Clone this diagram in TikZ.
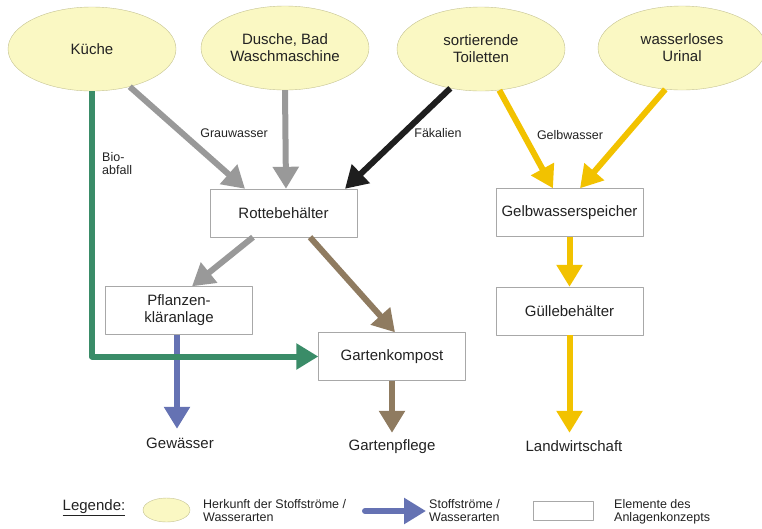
\documentclass[tikz,border=0pt]{standalone}
\usepackage{fontspec}
\setmainfont{Liberation Sans}
\usetikzlibrary{arrows.meta,shapes.geometric}
\definecolor{quelle}{HTML}{FAF8C3}
\definecolor{ellrand}{HTML}{C4C292}
\definecolor{kasten}{HTML}{A8A8A8}
\definecolor{schrift}{HTML}{222222}
\definecolor{grau}{HTML}{999999}
\definecolor{schwarz}{HTML}{1E1E1E}
\definecolor{gelb}{HTML}{F2C200}
\definecolor{braun}{HTML}{8F7B60}
\definecolor{blau}{HTML}{6572B3}
\definecolor{gruen}{HTML}{3A8C68}
\begin{document}
\begin{tikzpicture}[x=1pt,y=-1pt,line join=round,>={Triangle[width=25pt,length=22pt]},
	herkunft/.style={ellipse,draw=ellrand,fill=quelle,minimum width=168pt,minimum height=84pt,inner sep=0pt,align=center,text=schrift,font=\fontsize{15}{17}\selectfont},
	element/.style={draw=kasten,fill=white,minimum width=147pt,minimum height=48pt,align=center,text=schrift,font=\fontsize{15}{17}\selectfont},
	ziel/.style={text height=11pt,text depth=3pt,inner sep=0pt,text=schrift,font=\fontsize{15}{17}\selectfont},
	beschr/.style={align=left,text=schrift,font=\fontsize{12.5}{13}\selectfont},
	strom/.style={line width=6pt,->}]
				\useasboundingbox (0,0) rectangle (762,528);
				\node[herkunft] (kueche) at (92,49) {K\"uche};
				\node[herkunft] (dusche) at (285,48) {Dusche, Bad\\Waschmaschine};
				\node[herkunft] (toilette) at (481,49) {sortierende\\Toiletten};
				\node[herkunft] (urinal) at (682,48) {wasserloses\\Urinal};
				\node[element] (rotte) at (283.5,213) {Rottebeh\"alter};
				\node[element] (gelbsp) at (569.5,212.5) {Gelbwasserspeicher};
				\node[element] (pflanzen) at (179,310.5) {Pflanzen-\\kl\"aranlage};
				\node[element] (kompost) at (392,356.5) {Gartenkompost};
				\node[element] (guelle) at (569.5,311) {G\"ullebeh\"alter};
				\node[ziel] (gewaesser) at (180,444) {Gew\"asser};
				\node[ziel] (pflege) at (392,446) {Gartenpflege};
				\node[ziel] (landw) at (574,447) {Landwirtschaft};
				\node[beschr] (grau) at (234,133) {Grauwasser};
				\node[beschr] (faek) at (438,133) {F\"akalien};
				\node[beschr] (gelbw) at (570,135) {Gelbwasser};
				\node[beschr,anchor=west,inner sep=0pt] (bio) at (102,163.5) {Bio-\\abfall};
				\draw[strom,grau] (kueche.-45)--([xshift=-38.5pt]rotte.north);
				\draw[strom,grau] (dusche.south)--([xshift=2.5pt]rotte.north);
				\draw[strom,schwarz] (toilette.-128)--([xshift=61.5pt]rotte.north);
				\draw[strom,gelb] (toilette.-66)--([xshift=-16.5pt]gelbsp.north);
				\draw[strom,gelb] (urinal.-112)--([xshift=10.5pt]gelbsp.north);
				\draw[strom,gelb] (gelbsp.south)--(guelle.north);
				\draw[strom,gelb,shorten >=7pt] (guelle.south)--(guelle.south|-landw.north);
				\draw[strom,grau] ([xshift=-30.5pt]rotte.south)--([xshift=13pt]pflanzen.north);
				\draw[strom,braun] ([xshift=26.5pt]rotte.south)--([xshift=3pt]kompost.north);
				\draw[strom,braun,shorten >=6pt] (kompost.south)--(kompost.south|-pflege.north);
				\draw[strom,blau,shorten >=8pt] ([xshift=-2pt]pflanzen.south)--([xshift=-2pt]pflanzen.south|-gewaesser.north);
				\draw[strom,gruen] (kueche.south)|-(kompost.west);
				\node[text=schrift,font=\fontsize{15}{17}\selectfont] (legende) at (94,508) {\underline{Legende:}};
				\node[ellipse,draw=ellrand,fill=quelle,minimum width=47pt,minimum height=24pt,inner sep=0pt] (legell) at (166.5,510) {};
				\node[beschr,anchor=west,inner sep=0pt] (legherk) at (203,511) {Herkunft der Stoffstr\"ome /\\Wasserarten};
				\coordinate (pfeilA) at (365,511);
				\coordinate (pfeilB) at (426,511);
				\draw[strom,blau,line cap=round] (pfeilA)--(pfeilB);
				\node[beschr,anchor=west,inner sep=0pt] (legstrom) at (429,511) {Stoffstr\"ome /\\Wasserarten};
				\node[draw=kasten,minimum width=60pt,minimum height=19pt,inner sep=0pt] (legbox) at (563,510.5) {};
				\node[beschr,anchor=west,inner sep=0pt] (legelem) at (614,512) {Elemente des\\Anlagenkonzepts};
			\end{tikzpicture}
\end{document}
